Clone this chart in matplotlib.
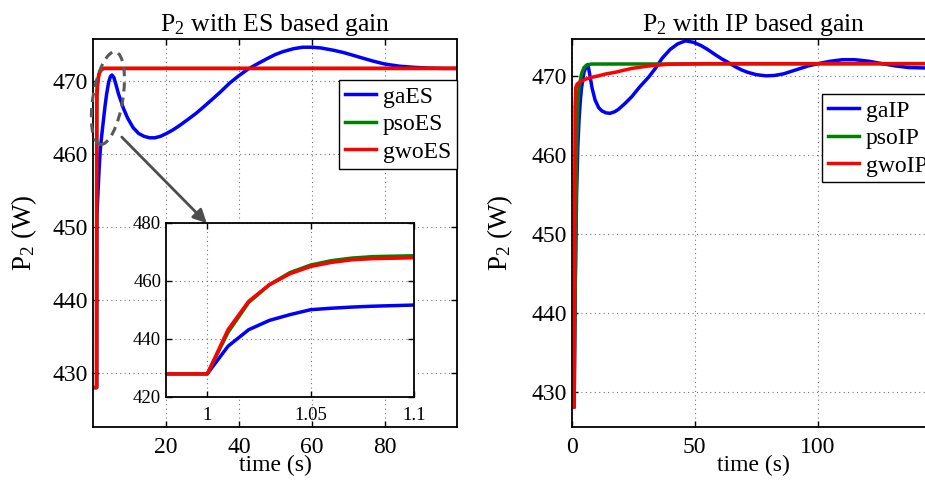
import numpy as np
import matplotlib
matplotlib.use("Agg")
from matplotlib import pyplot as plt
from matplotlib.patches import Ellipse

plt.rcParams['font.family'] = ['Liberation Serif', 'DejaVu Serif']
plt.rcParams['mathtext.default'] = 'regular'

# ---- ES based gain (left) ----
t_ga_es = [0, 1, 1.01, 1.02, 1.03, 1.04, 1.05, 1.06, 1.07, 1.08, 1.1, 1.4, 1.7, 2.0, 2.4,
           2.8, 3.3, 3.75, 4.3, 4.8, 5.2, 5.7, 6.3, 7, 7.7, 8.3, 9.5, 11, 12.5, 14, 15.5,
           17, 18.5, 20.2, 22, 23.8, 26, 28.4, 30.5, 33, 35, 37.5, 40, 42.5, 45, 47.6, 50,
           52.1, 55, 57.5, 60, 62.5, 65.8, 68.5, 71.3, 74, 76.8, 80, 84.1, 88, 91.8, 96, 100]
p_ga_es = [428, 428, 437.5, 443.2, 446.4, 448.4, 450.1, 450.6, 451.0, 451.3, 451.7, 455, 458,
           460.5, 462.5, 464.3, 466.5, 468.2, 469.8, 470.6, 470.8, 470.5, 469.5, 468.2, 467.2,
           466.3, 464.9, 463.6, 462.8, 462.4, 462.2, 462.2, 462.4, 462.8, 463.3, 463.9, 464.7,
           465.6, 466.5, 467.6, 468.5, 469.7, 470.7, 471.6, 472.3, 473.0, 473.6, 474.0, 474.4,
           474.6, 474.6, 474.5, 474.2, 473.9, 473.5, 473.1, 472.7, 472.3, 472.0, 471.85,
           471.75, 471.7, 471.7]

t_fast_es = [0, 1, 1.01, 1.02, 1.03, 1.04, 1.05, 1.06, 1.07, 1.08, 1.1, 1.3, 1.6, 2, 2.5, 3, 4, 100]
p_pso_es = [428, 428, 442.3, 452.6, 458.7, 462.9, 465.5, 467.0, 467.9, 468.4, 468.7, 470.0,
            470.9, 471.4, 471.6, 471.7, 471.7, 471.7]
p_gwo_es = [428, 428, 443.2, 453.0, 458.7, 462.5, 465.0, 466.4, 467.3, 467.7, 468.0, 469.6,
            470.7, 471.3, 471.6, 471.7, 471.7, 471.7]

# ---- IP based gain (right) ----
t_ga_ip = [0, 1, 1.5, 2, 2.5, 3, 3.5, 4, 5, 6, 6.6, 7.3, 8.3, 9.5, 11, 12.3, 14, 15.6, 17.5,
           19, 21.5, 24.4, 27.5, 31.3, 34, 36.8, 40, 43, 46.3, 49.5, 52.5, 55.2, 58.5, 61,
           63.3, 66.5, 69, 71.5, 75, 79, 82.4, 86, 89, 92, 96, 100.1, 105, 110, 115, 120.8,
           126, 131.7, 137, 143.7, 148]
p_ga_ip = [428, 428, 444, 455, 461, 464.5, 466.8, 468.5, 470.5, 471.3, 471.5, 470.3, 468.5,
           467, 466, 465.6, 465.35, 465.3, 465.5, 465.8, 466.5, 467.4, 468.6, 469.9, 471.0,
           472.3, 473.4, 474.1, 474.5, 474.3, 473.9, 473.4, 472.7, 472.2, 471.8, 471.2,
           470.8, 470.5, 470.2, 470.05, 470.1, 470.3, 470.6, 470.9, 471.3, 471.6, 471.9,
           472.1, 472.1, 471.9, 471.6, 471.3, 471.1, 471.05, 471.05]

t_pso_ip = [0, 1, 1.5, 2, 2.5, 3, 4, 5, 6, 8, 148]
p_pso_ip = [428, 428, 445, 460, 466, 468.5, 470.3, 471.1, 471.4, 471.55, 471.6]

t_gwo_ip = [0, 1, 1.2, 1.4, 1.7, 2.2, 3.5, 5.4, 8, 10.9, 14, 17.7, 21, 24.5, 28, 31.3, 35,
            38.1, 45, 55, 148]
p_gwo_ip = [428, 428, 452, 466, 468.6, 469.0, 469.3, 469.6, 469.85, 470.05, 470.3, 470.5,
            470.75, 471.0, 471.15, 471.3, 471.4, 471.5, 471.55, 471.6, 471.6]

BLUE, GREEN, RED = (0, 0, 1), (0, 0.5, 0), (1, 0, 0)
FS = 17
LW = 2.5


def style(ax):
    ax.grid(True, linestyle=(0, (1, 3)), color='0.45', linewidth=0.8)
    ax.tick_params(direction='in', top=True, right=True, length=4, width=1)
    for s in ax.spines.values():
        s.set_linewidth(1.3)


fig = plt.figure(figsize=(9.25, 4.84), dpi=100)

# left panel
ax1 = fig.add_axes([0.1005, 0.1178, 0.3935, 0.8012])
ax1.plot(t_ga_es, p_ga_es, color=BLUE, lw=LW, label='gaES')
ax1.plot(t_fast_es, p_pso_es, color=GREEN, lw=LW, label='psoES')
ax1.plot(t_fast_es, p_gwo_es, color=RED, lw=LW, label='gwoES')
ax1.set_xlim(0, 99.8)
ax1.set_ylim(422.6, 475.7)
ax1.set_xticks([20, 40, 60, 80])
ax1.set_yticks([430, 440, 450, 460, 470])
ax1.tick_params(labelsize=FS)
ax1.tick_params(axis='x', pad=7)
style(ax1)
ax1.set_title(r'P$_2$ with ES based gain', fontsize=18.5, pad=6)
ax1.set_xlabel('time (s)', fontsize=FS, labelpad=-2)
ax1.set_ylabel(r'P$_2$ (W)', fontsize=19.5, labelpad=10)
ax1.legend(loc='upper right', bbox_to_anchor=(1.0, 0.894), fontsize=FS, frameon=True,
           fancybox=False, edgecolor='black', framealpha=1, handlelength=1.3,
           handletextpad=0.3, labelspacing=0.25, borderpad=0.25, borderaxespad=0)
ax1.get_legend().get_frame().set_linewidth(1.0)

ell = Ellipse((0.041, 0.848), 0.082, 0.242, angle=-10, transform=ax1.transAxes,
              fill=False, edgecolor='0.35', linestyle=(0, (3, 2)), linewidth=2.2,
              clip_on=False, zorder=5)
ax1.add_patch(ell)
ax1.annotate('', xy=(31.2, 450.5), xytext=(7.9, 462.3),
             arrowprops=dict(arrowstyle='-|>', color='0.3', lw=2, mutation_scale=20,
                             shrinkA=0, shrinkB=0), zorder=6)

# inset
axi = fig.add_axes([0.1795, 0.1798, 0.2681, 0.3595])
axi.plot(t_ga_es, p_ga_es, color=BLUE, lw=LW)
axi.plot(t_fast_es, p_pso_es, color=GREEN, lw=LW)
axi.plot(t_fast_es, p_gwo_es, color=RED, lw=LW)
axi.set_xlim(0.98, 1.1)
axi.set_ylim(420, 480)
axi.set_xticks([1, 1.05, 1.1])
axi.set_xticklabels(['1', '1.05', '1.1'])
axi.set_yticks([420, 440, 460, 480])
axi.tick_params(labelsize=13.5)
axi.tick_params(axis='x', pad=7)
style(axi)

# right panel
ax2 = fig.add_axes([0.618, 0.1178, 0.394, 0.8012])
ax2.plot(t_ga_ip, p_ga_ip, color=BLUE, lw=LW, label='gaIP')
ax2.plot(t_pso_ip, p_pso_ip, color=GREEN, lw=LW, label='psoIP')
ax2.plot(t_gwo_ip, p_gwo_ip, color=RED, lw=LW, label='gwoIP')
ax2.set_xlim(0, 148)
ax2.set_ylim(425.5, 474.7)
ax2.set_xticks([0, 50, 100])
ax2.set_yticks([430, 440, 450, 460, 470])
ax2.tick_params(labelsize=FS)
ax2.tick_params(axis='x', pad=7)
style(ax2)
ax2.set_title(r'P$_2$ with IP based gain', fontsize=18.5, pad=6)
ax2.set_xlabel('time (s)', fontsize=FS, labelpad=-2)
ax2.set_ylabel(r'P$_2$ (W)', fontsize=19.5, labelpad=12)
ax2.legend(loc='upper left', bbox_to_anchor=(0.687, 0.858), fontsize=FS, frameon=True,
           fancybox=False, edgecolor='black', framealpha=1, handlelength=1.3,
           handletextpad=0.3, labelspacing=0.25, borderpad=0.25, borderaxespad=0)
ax2.get_legend().get_frame().set_linewidth(1.0)

fig.savefig('out.png', dpi=100)
